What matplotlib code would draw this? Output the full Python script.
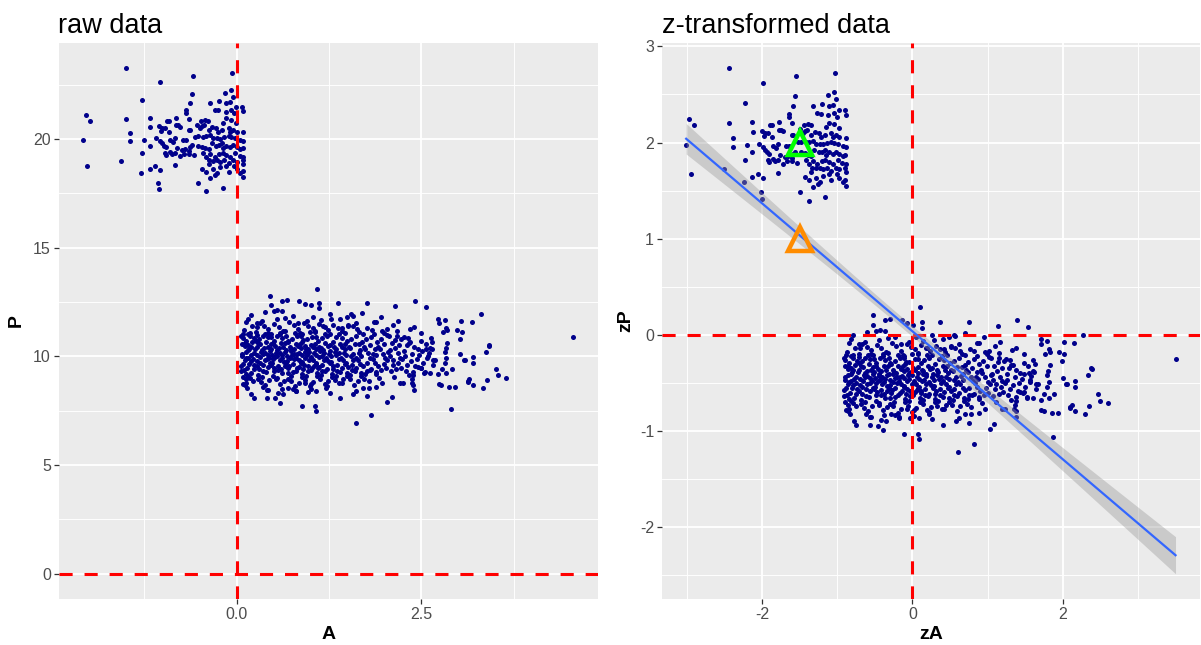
import numpy as np
import matplotlib
matplotlib.use("Agg")
import matplotlib.pyplot as plt
from matplotlib.ticker import MultipleLocator, FixedLocator

plt.rcParams['font.family'] = ['Liberation Sans', 'DejaVu Sans']
plt.rcParams['axes.unicode_minus'] = False

# ---------------- data (raw A, P values) ----------------
top_cluster_points = [
    (-1.50, 23.26), (-0.59, 22.92), (-0.06, 23.06), (-1.04, 22.63), (-1.28, 21.80),
    (-2.04, 21.09), (-1.98, 20.84), (-1.50, 20.93), (-2.08, 19.98), (-1.45, 20.28),
    (-1.45, 19.92), (-1.25, 19.98), (-2.02, 18.76), (-1.57, 18.98), (-1.28, 19.34),
    (-1.30, 18.43), (-1.18, 20.99), (-1.17, 20.54), (-1.18, 19.68), (-1.18, 18.62),
    (-1.11, 18.76), (-1.04, 18.58), (-1.07, 18.00), (-1.05, 17.72), (-0.53, 18.00),
    (-0.42, 17.61), (-0.19, 17.77), (-0.84, 18.81),
    (-0.61, 22.09), (-0.16, 22.14), (-0.07, 22.25), (-0.05, 21.94), (-0.63, 21.67),
    (-0.36, 21.67), (-0.24, 21.76), (-0.14, 21.67), (-0.09, 21.71), (-0.01, 21.48),
    (0.07, 21.47), (0.09, 21.28), (-0.30, 21.36), (-0.25, 21.33), (-0.15, 21.27),
    (-0.08, 21.36), (-0.04, 21.18), (-0.68, 21.33), (-0.69, 21.18), (-0.39, 20.84),
    (-0.43, 20.90), (-0.48, 20.84), (-0.18, 20.75), (-0.14, 20.95), (-0.07, 20.90),
    (-0.01, 20.72), (-0.64, 20.93), (-0.82, 20.99), (-0.94, 20.83), (-0.91, 20.84),
    (-1.05, 20.60), (-1.01, 20.49), (-0.97, 20.50), (-1.03, 20.38), (-0.91, 20.32),
    (-0.82, 20.64), (-0.80, 20.63), (-0.77, 20.58), (-0.65, 20.41), (-0.63, 20.41),
    (-0.54, 20.67), (-0.50, 20.49), (-0.47, 20.60), (-0.44, 20.63), (-0.38, 20.41),
    (-0.33, 20.57), (-0.28, 20.52), (-0.25, 20.34), (-0.20, 20.41), (-0.11, 20.49),
    (-0.09, 20.34), (-0.05, 20.41), (0.00, 20.34), (0.09, 20.31), (-0.56, 20.11),
    (-0.52, 20.14), (-0.45, 20.11), (-0.41, 20.14), (-0.36, 20.18), (-0.32, 20.03),
    (-0.27, 20.05), (-0.23, 20.02), (-0.17, 20.08), (-0.11, 20.14), (-0.07, 20.08),
    (-0.02, 20.03), (0.05, 19.95), (0.09, 19.92), (-1.09, 20.06), (-1.04, 19.91),
    (-1.01, 19.80), (-0.98, 19.68), (-0.95, 19.62), (-0.90, 19.95), (-0.86, 19.86),
    (-0.83, 20.03), (-0.72, 19.95), (-0.68, 19.95), (-0.81, 19.57), (-0.74, 19.50),
    (-0.70, 19.53), (-0.65, 19.46), (-0.63, 19.62), (-0.61, 19.72), (-0.52, 19.68),
    (-0.47, 19.65), (-0.43, 19.57), (-0.38, 19.53), (-0.34, 19.80), (-0.28, 19.68),
    (-0.24, 19.72), (-0.20, 19.80), (-0.18, 19.57), (-0.14, 19.68), (-0.09, 19.62),
    (-0.05, 19.72), (0.00, 19.62), (0.05, 19.53), (0.08, 19.57), (-0.97, 19.34),
    (-0.95, 19.27), (-0.90, 19.42), (-0.88, 19.31), (-0.84, 19.37), (-0.77, 19.20),
    (-0.71, 19.31), (-0.65, 19.30), (-0.58, 19.25), (-0.45, 19.34), (-0.41, 19.19),
    (-0.36, 19.31), (-0.30, 19.19), (-0.24, 19.31), (-0.19, 19.34), (-0.14, 19.27),
    (-0.09, 19.19), (-0.02, 19.34), (0.04, 19.22), (0.09, 19.19), (0.08, 19.04),
    (0.09, 18.85), (0.00, 18.96), (-0.05, 19.04), (-0.11, 18.91), (-0.17, 19.04),
    (-0.22, 18.96), (-0.27, 19.04), (-0.32, 19.01), (-0.37, 19.02), (-0.38, 18.85),
    (-0.47, 18.62), (-0.41, 18.49), (-0.36, 18.20), (-0.32, 18.61), (-0.23, 18.70),
    (-0.14, 18.76), (-0.11, 18.50), (-0.04, 18.76), (0.00, 18.61), (0.05, 18.43),
    (0.09, 18.27), (0.08, 18.53), (-0.26, 18.43), (-0.29, 18.33),
]

bottom_cluster_points = [
    # periphery, A 0 - 1.6
    (1.09, 13.12), (0.45, 12.77), (0.85, 12.57), (0.92, 12.42), (1.00, 12.35),
    (1.12, 12.46), (1.12, 12.22), (1.37, 12.46), (0.62, 12.54), (0.68, 12.58),
    (0.46, 12.35), (0.55, 12.13), (0.50, 12.08), (0.62, 12.08), (0.38, 12.05),
    (0.19, 11.90), (0.16, 11.73), (0.13, 11.59), (0.27, 11.54), (0.28, 11.35),
    (0.66, 11.77), (0.76, 11.85), (0.83, 11.54), (0.95, 11.62), (1.04, 11.82),
    (1.14, 11.67), (1.26, 11.93), (1.28, 11.70), (1.40, 11.73), (1.49, 11.82),
    (1.55, 11.93), (1.19, 11.36), (1.06, 11.16), (0.88, 11.01), (0.59, 11.09),
    (0.43, 11.09), (0.18, 11.06), (1.42, 11.31), (1.51, 11.39),
    (1.08, 7.49), (1.06, 7.72), (0.88, 7.72), (0.59, 7.87), (0.41, 8.10),
    (0.52, 8.07), (0.23, 8.10), (0.20, 8.26), (0.11, 8.67), (0.13, 8.79),
    (0.43, 8.44), (0.63, 8.26), (0.70, 8.56), (0.81, 8.41), (0.92, 8.79),
    (1.01, 8.72), (1.08, 8.41), (1.22, 8.64), (1.26, 8.33), (1.40, 8.10),
    (1.42, 8.79), (1.58, 8.26),
    # periphery, A 1.5 - 3.2
    (1.76, 12.46), (1.70, 12.00), (2.15, 12.31), (2.41, 12.57), (2.56, 12.26),
    (1.96, 11.82), (1.89, 11.57), (1.86, 11.57), (1.62, 11.54), (1.57, 11.88),
    (2.18, 11.62), (2.11, 11.44), (2.03, 11.24), (2.00, 11.09), (2.17, 11.16),
    (2.17, 10.96), (2.34, 11.28), (2.40, 11.35), (2.50, 11.09), (2.32, 10.86),
    (2.33, 10.63), (2.63, 10.86), (2.65, 10.67), (2.73, 11.73), (2.74, 11.54),
    (2.82, 11.67), (2.79, 11.13), (2.85, 11.21), (2.84, 11.31), (2.98, 11.21),
    (3.05, 11.13), (3.04, 11.62), (3.02, 10.81), (2.85, 10.63), (2.83, 10.37),
    (2.82, 10.20), (2.62, 10.40), (2.57, 10.32), (2.51, 10.24), (2.45, 10.32),
    (2.59, 10.02), (2.66, 9.82), (2.69, 9.82), (2.84, 9.94), (2.82, 9.71),
    (3.03, 10.09), (3.08, 9.82), (2.91, 9.43), (2.78, 9.43), (2.73, 9.17),
    (2.84, 9.22), (2.62, 9.22), (2.55, 9.28), (2.50, 9.48), (2.45, 9.51),
    (2.39, 9.13), (2.38, 8.94), (2.39, 8.67), (2.40, 8.44), (2.37, 8.79),
    (2.25, 8.79), (2.21, 8.79), (2.74, 8.72), (2.77, 8.67), (2.88, 8.61),
    (2.96, 8.61), (3.13, 8.87), (2.10, 8.15), (2.04, 7.92), (2.90, 7.60),
    (1.82, 7.29), (1.61, 6.93), (1.76, 8.18), (1.62, 8.41), (1.89, 8.61),
    (1.97, 8.79), (1.79, 8.56), (1.71, 8.56),
    # far right
    (3.31, 11.93), (3.18, 11.59), (3.41, 10.52), (3.42, 10.47), (3.37, 10.20),
    (3.20, 9.98), (3.20, 9.71), (3.09, 9.82), (3.51, 9.40), (3.54, 9.13),
    (3.65, 9.02), (3.39, 8.90), (3.15, 8.94), (3.13, 8.82), (3.20, 8.69),
    (3.33, 8.56), (4.56, 10.90),
    # dense core, A 0.05 - 0.25
    (0.07, 10.12), (0.09, 9.65), (0.11, 10.48), (0.06, 9.31), (0.13, 9.92),
    (0.08, 10.85), (0.15, 9.12), (0.10, 11.21), (0.17, 10.33), (0.12, 8.95),
    (0.19, 9.78), (0.07, 10.02), (0.21, 10.66), (0.14, 9.47), (0.23, 10.15),
    (0.09, 8.71), (0.16, 11.02), (0.20, 9.25), (0.11, 9.85), (0.24, 9.61),
    (0.18, 10.92), (0.06, 9.58), (0.13, 10.71), (0.22, 8.88), (0.15, 10.28),
    (0.08, 9.05), (0.19, 10.45), (0.12, 10.22), (0.24, 10.83), (0.10, 9.38),
    (0.17, 9.66), (0.21, 11.38), (0.14, 8.55), (0.07, 10.58), (0.23, 9.42),
    (0.16, 9.95), (0.20, 10.05), (0.09, 11.05), (0.18, 9.02), (0.11, 10.62),
    (0.25, 10.36), (0.13, 9.18), (0.06, 10.95), (0.22, 9.86), (0.15, 10.52),
    # A 0.25 - 0.45
    (0.27, 10.42), (0.31, 9.71), (0.35, 10.95), (0.29, 9.15), (0.38, 10.18),
    (0.42, 9.52), (0.26, 11.12), (0.33, 8.82), (0.40, 10.68), (0.44, 9.95),
    (0.28, 10.05), (0.36, 9.33), (0.43, 11.28), (0.30, 10.82), (0.39, 8.68),
    (0.34, 10.31), (0.41, 9.88), (0.27, 9.55), (0.37, 11.42), (0.32, 10.55),
    (0.45, 10.25), (0.29, 8.98), (0.36, 9.62), (0.42, 10.88), (0.26, 10.72),
    (0.34, 9.05), (0.40, 9.28), (0.31, 11.55), (0.38, 9.82), (0.44, 8.92),
    (0.28, 9.78), (0.35, 10.12), (0.43, 10.45), (0.30, 9.42), (0.39, 11.05),
    (0.33, 10.21), (0.41, 8.45), (0.27, 10.98), (0.37, 10.38), (0.45, 9.68),
    (0.32, 9.96), (0.29, 10.62), (0.36, 8.58), (0.42, 10.08), (0.34, 11.62),
    # A 0.45 - 0.65
    (0.47, 10.35), (0.51, 9.48), (0.55, 10.92), (0.49, 9.88), (0.58, 10.15),
    (0.62, 9.22), (0.46, 11.05), (0.53, 8.95), (0.60, 10.62), (0.64, 9.75),
    (0.48, 10.08), (0.56, 9.38), (0.63, 11.18), (0.50, 10.72), (0.59, 8.72),
    (0.54, 10.28), (0.61, 9.92), (0.47, 9.62), (0.57, 11.35), (0.52, 10.48),
    (0.65, 10.22), (0.49, 9.12), (0.56, 9.58), (0.62, 10.85), (0.46, 10.55),
    (0.54, 9.02), (0.60, 9.42), (0.51, 11.48), (0.58, 9.85), (0.64, 8.85),
    (0.48, 9.72), (0.55, 10.02), (0.63, 10.42), (0.50, 9.35), (0.59, 11.02),
    (0.53, 10.18), (0.61, 8.52), (0.47, 10.88), (0.57, 10.38), (0.65, 9.55),
    (0.52, 9.98), (0.49, 10.62), (0.56, 8.32), (0.62, 10.05), (0.54, 11.72),
    # A 0.65 - 0.85
    (0.67, 10.28), (0.71, 9.58), (0.75, 10.82), (0.69, 9.22), (0.78, 10.12),
    (0.82, 9.45), (0.66, 11.15), (0.73, 8.88), (0.80, 10.58), (0.84, 9.82),
    (0.68, 10.02), (0.76, 9.28), (0.83, 11.25), (0.70, 10.68), (0.79, 8.62),
    (0.74, 10.35), (0.81, 9.95), (0.67, 9.68), (0.77, 11.45), (0.72, 10.45),
    (0.85, 10.18), (0.69, 8.98), (0.76, 9.65), (0.82, 10.92), (0.66, 10.62),
    (0.74, 9.08), (0.80, 9.35), (0.71, 11.58), (0.78, 9.88), (0.84, 8.78),
    (0.68, 9.78), (0.75, 10.08), (0.83, 10.48), (0.70, 9.45), (0.79, 11.08),
    (0.73, 10.25), (0.81, 8.42), (0.67, 10.95), (0.77, 10.32), (0.85, 9.52),
    (0.72, 9.92), (0.69, 10.72), (0.76, 8.52), (0.82, 10.12),
    # A 0.85 - 1.05
    (0.87, 10.38), (0.91, 9.62), (0.95, 10.78), (0.89, 9.18), (0.98, 10.22),
    (1.02, 9.48), (0.86, 11.08), (0.93, 8.92), (1.00, 10.52), (1.04, 9.85),
    (0.88, 10.08), (0.96, 9.32), (1.03, 11.32), (0.90, 10.75), (0.99, 8.65),
    (0.94, 10.32), (1.01, 9.98), (0.87, 9.72), (0.97, 11.42), (0.92, 10.48),
    (1.05, 10.15), (0.89, 9.05), (0.96, 9.55), (1.02, 10.88), (0.86, 10.58),
    (0.94, 9.12), (1.00, 9.38), (0.91, 11.52), (0.98, 9.82), (1.04, 8.82),
    (0.88, 9.75), (0.95, 10.05), (1.03, 10.42), (0.90, 9.42), (0.99, 11.12),
    (0.93, 10.22), (1.01, 8.48), (0.87, 10.92), (0.97, 10.35), (1.05, 9.58),
    (0.92, 9.95), (0.89, 10.68), (0.96, 8.38),
    # A 1.05 - 1.25
    (1.07, 10.32), (1.11, 9.52), (1.15, 10.85), (1.09, 9.25), (1.18, 10.18),
    (1.22, 9.42), (1.06, 11.12), (1.13, 8.98), (1.20, 10.62), (1.24, 9.78),
    (1.08, 10.05), (1.16, 9.35), (1.23, 11.22), (1.10, 10.72), (1.19, 8.72),
    (1.14, 10.38), (1.21, 9.92), (1.07, 9.65), (1.17, 11.38), (1.12, 10.45),
    (1.25, 10.12), (1.09, 9.08), (1.16, 9.62), (1.22, 10.95), (1.06, 10.55),
    (1.14, 9.15), (1.20, 9.32), (1.11, 11.48), (1.18, 9.85), (1.24, 8.85),
    (1.08, 9.72), (1.15, 10.02), (1.23, 10.48), (1.10, 9.45), (1.19, 11.05),
    (1.13, 10.25), (1.21, 8.55), (1.07, 10.88), (1.17, 10.28), (1.12, 9.98),
    # A 1.25 - 1.45
    (1.27, 10.25), (1.31, 9.55), (1.35, 10.88), (1.29, 9.18), (1.38, 10.15),
    (1.42, 9.48), (1.26, 11.05), (1.33, 8.92), (1.40, 10.58), (1.44, 9.82),
    (1.28, 10.02), (1.36, 9.35), (1.43, 11.18), (1.30, 10.68), (1.39, 8.78),
    (1.34, 10.35), (1.41, 9.95), (1.27, 9.68), (1.37, 11.32), (1.32, 10.42),
    (1.45, 10.15), (1.29, 9.05), (1.36, 9.62), (1.42, 10.85), (1.26, 10.52),
    (1.34, 9.12), (1.40, 9.28), (1.31, 11.45), (1.38, 9.88), (1.44, 8.95),
    (1.28, 9.75), (1.35, 10.05), (1.43, 10.45), (1.30, 9.42), (1.39, 11.02),
    (1.33, 10.22),
    # A 1.45 - 1.65
    (1.47, 10.32), (1.51, 9.52), (1.55, 10.82), (1.49, 9.22), (1.58, 10.12),
    (1.62, 9.45), (1.46, 11.08), (1.53, 8.95), (1.60, 10.55), (1.64, 9.85),
    (1.48, 10.05), (1.56, 9.38), (1.63, 11.25), (1.50, 10.72), (1.59, 8.68),
    (1.54, 10.38), (1.61, 9.92), (1.47, 9.65), (1.57, 11.38), (1.52, 10.42),
    (1.65, 10.18), (1.49, 9.08), (1.56, 9.62), (1.62, 10.92), (1.46, 10.58),
    (1.54, 9.15), (1.60, 9.32), (1.51, 11.45), (1.58, 9.82), (1.64, 8.88),
    (1.48, 9.72), (1.55, 10.02),
    # A 1.65 - 1.85
    (1.67, 10.28), (1.71, 9.58), (1.75, 10.78), (1.69, 9.25), (1.78, 10.15),
    (1.82, 9.42), (1.66, 11.12), (1.73, 8.98), (1.80, 10.52), (1.84, 9.88),
    (1.68, 10.02), (1.76, 9.35), (1.83, 11.22), (1.70, 10.65), (1.79, 8.85),
    (1.74, 10.35), (1.81, 9.95), (1.67, 9.65), (1.77, 11.32), (1.72, 10.42),
    (1.85, 10.12), (1.69, 9.12), (1.76, 9.68), (1.82, 10.88), (1.66, 10.55),
    (1.74, 9.18), (1.80, 9.38), (1.71, 11.05),
    # A 1.85 - 2.05
    (1.87, 10.35), (1.91, 9.55), (1.95, 10.82), (1.89, 9.28), (1.98, 10.12),
    (2.02, 9.45), (1.86, 11.02), (1.93, 9.02), (2.00, 10.58), (2.04, 9.85),
    (1.88, 10.05), (1.96, 9.38), (2.03, 10.98), (1.90, 10.68), (1.99, 9.65),
    (1.94, 10.32), (2.01, 9.92), (1.87, 9.72), (1.97, 11.18), (1.92, 10.45),
    (2.05, 10.22), (1.89, 9.18),
    # A 2.05 - 2.25
    (2.07, 10.28), (2.11, 9.62), (2.15, 10.75), (2.09, 9.32), (2.18, 10.15),
    (2.22, 9.48), (2.06, 10.95), (2.13, 9.05), (2.20, 10.52), (2.24, 9.88),
    (2.08, 10.02), (2.16, 9.42), (2.23, 10.82), (2.10, 10.62), (2.19, 9.72),
    (2.14, 10.38), (2.21, 9.95), (2.12, 9.85),
    # A 2.25 - 2.45
    (2.27, 10.25), (2.31, 9.62), (2.35, 10.65), (2.29, 9.35), (2.38, 10.12),
    (2.42, 9.55), (2.26, 10.88), (2.33, 9.15), (2.40, 10.45), (2.44, 9.88),
    (2.28, 10.02), (2.36, 9.78), (2.30, 10.52), (2.39, 9.28),
    # A 2.45 - 2.7
    (2.47, 10.05), (2.52, 9.72), (2.56, 10.58), (2.49, 9.45), (2.60, 10.18),
    (2.66, 9.62), (2.50, 10.72), (2.58, 9.92), (2.64, 10.35), (2.54, 9.25),
]

MEAN_A, SD_A = 0.99, 1.02
MEAN_P, SD_P = 11.92, 4.09

# highlighted points in z space
green_point = (-1.5, 2.0)
orange_point = (-1.5, 1.0)

# ---------------- derived ----------------
pts = np.array(top_cluster_points + bottom_cluster_points)
A = pts[:, 0]
P = pts[:, 1]
zA = (A - MEAN_A) / SD_A
zP = (P - MEAN_P) / SD_P

# linear fit with 95% CI (like geom_smooth(method='lm'))
n = len(zA)
slope, intercept = np.polyfit(zA, zP, 1)
resid = zP - (slope * zA + intercept)
s = np.sqrt(np.sum(resid ** 2) / (n - 2))
xbar = zA.mean()
Sxx = np.sum((zA - xbar) ** 2)
xs = np.linspace(zA.min(), zA.max(), 80)
ys = slope * xs + intercept
se = s * np.sqrt(1.0 / n + (xs - xbar) ** 2 / Sxx)
tq = 1.962

# ---------------- styling ----------------
PANEL_BG = '#EBEBEB'
POINT_COLOR = '#00008B'
TICK_COLOR = '#4D4D4D'

fig = plt.figure(figsize=(12.01, 6.45), dpi=100)
fig.patch.set_facecolor('white')

ax1 = fig.add_axes([58.5 / 1201, 46 / 645, (598 - 58.5) / 1201, (599 - 43) / 645])
ax2 = fig.add_axes([661.7 / 1201, 46 / 645, (1200 - 661.7) / 1201, (599 - 43) / 645])


def style(ax):
    ax.set_facecolor(PANEL_BG)
    for sp in ax.spines.values():
        sp.set_visible(False)
    ax.grid(which='major', color='white', linewidth=1.3, zorder=0)
    ax.grid(which='minor', color='white', linewidth=0.65, zorder=0)
    ax.set_axisbelow(True)
    ax.tick_params(which='major', length=3.5, width=0.9, color='#333333',
                   labelsize=11.5, labelcolor=TICK_COLOR, pad=2)
    ax.tick_params(which='minor', length=0)


def expand(lo, hi, f=0.05):
    r = hi - lo
    return lo - f * r, hi + f * r


dash = (4.3, 3.9)

# ---- left panel: raw data ----
style(ax1)
ax1.scatter(A, P, s=13, color=POINT_COLOR, linewidths=0, zorder=3)
ax1.axvline(0, color='red', lw=2.2, dashes=dash, zorder=4)
ax1.axhline(0, color='red', lw=2.2, dashes=dash, zorder=4)
ax1.set_xlim(*expand(min(A.min(), 0), max(A.max(), 0)))
ax1.set_ylim(*expand(min(P.min(), 0), max(P.max(), 0)))
ax1.xaxis.set_major_locator(FixedLocator([0.0, 2.5]))
ax1.xaxis.set_minor_locator(FixedLocator([-1.25, 1.25, 3.75]))
ax1.set_xticklabels(['0.0', '2.5'])
ax1.yaxis.set_major_locator(MultipleLocator(5))
ax1.yaxis.set_minor_locator(MultipleLocator(2.5))
ax1.set_xlabel('A', fontsize=14, fontweight='bold', labelpad=3)
ax1.set_ylabel('P', fontsize=14, fontweight='bold', labelpad=6)
ax1.set_title('raw data', loc='left', fontsize=19.5, pad=7)

# ---- right panel: z-transformed data ----
style(ax2)
ax2.scatter(zA, zP, s=13, color=POINT_COLOR, linewidths=0, zorder=3)
ax2.axvline(0, color='red', lw=2.2, dashes=dash, zorder=4)
ax2.axhline(0, color='red', lw=2.2, dashes=dash, zorder=4)
ax2.fill_between(xs, ys - tq * se, ys + tq * se, color='#999999', alpha=0.4,
                 linewidth=0, zorder=5)
ax2.plot(xs, ys, color='#3366FF', lw=1.6, zorder=6)
ax2.plot([green_point[0]], [green_point[1]], marker='^', markersize=17,
         markerfacecolor='none', markeredgecolor='#00FF00', markeredgewidth=3.2, zorder=7)
ax2.plot([orange_point[0]], [orange_point[1]], marker='^', markersize=17,
         markerfacecolor='none', markeredgecolor='#FF8C00', markeredgewidth=3.2, zorder=7)
ylo = min(zP.min(), (ys - tq * se).min(), 0)
yhi = max(zP.max(), (ys + tq * se).max(), green_point[1])
ax2.set_xlim(*expand(min(zA.min(), 0), max(zA.max(), 0)))
ax2.set_ylim(*expand(ylo, yhi))
ax2.xaxis.set_major_locator(MultipleLocator(2))
ax2.xaxis.set_minor_locator(MultipleLocator(1))
ax2.yaxis.set_major_locator(MultipleLocator(1))
ax2.yaxis.set_minor_locator(MultipleLocator(0.5))
ax2.set_xlabel('zA', fontsize=14, fontweight='bold', labelpad=3)
ax2.set_ylabel('zP', fontsize=14, fontweight='bold', labelpad=4)
ax2.set_title('z-transformed data', loc='left', fontsize=19.5, pad=7)

fig.savefig('out.png', dpi=100, facecolor='white')
